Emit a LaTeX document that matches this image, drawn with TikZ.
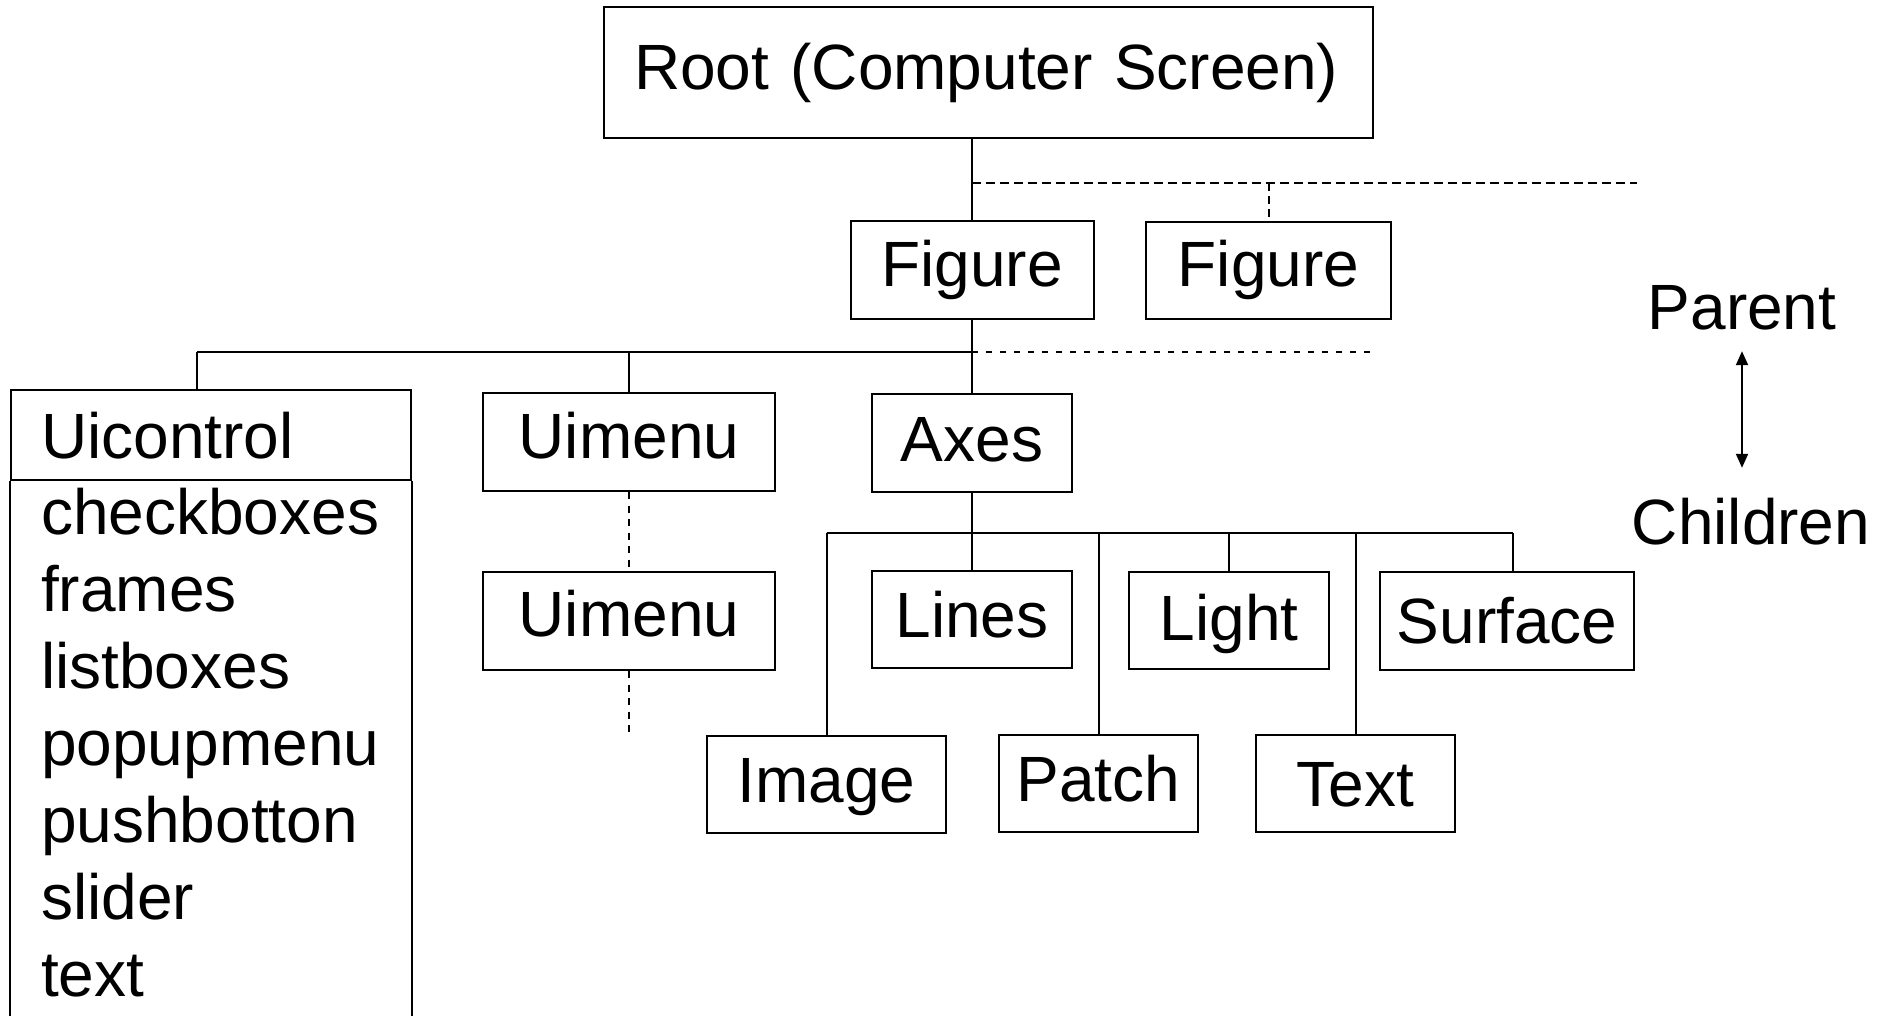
\documentclass[tikz,border=0pt]{standalone}
\usepackage{fontspec}
\setmainfont{Liberation Sans}
\usetikzlibrary{arrows.meta}
\begin{document}
\begin{tikzpicture}[x=1pt,y=-1pt,
  every node/.style={font=\fontsize{64pt}{77pt}\selectfont, inner sep=0pt},
  box/.style={draw, line width=2pt, text height=46pt, text depth=10pt},
  lbl/.style={text height=46pt, text depth=0pt},
  conn/.style={line width=2pt},
  barline/.style={line width=2.8pt},
  sibdash/.style={line width=2pt, dash pattern=on 9pt off 5pt},
  sibdrop/.style={line width=2pt, dash pattern=on 8pt off 5pt},
  kiddash/.style={line width=2pt, dash pattern=on 6pt off 8pt},
  menudash/.style={line width=2pt, dash pattern=on 7pt off 6.5pt},
  tip/.style={{Triangle[length=14pt,width=12pt]}-{Triangle[length=14pt,width=12pt]}}]
\useasboundingbox (0,0) rectangle (1887,1015);

% root and figures
\node[box, minimum width=769pt, minimum height=131pt, text width=709pt, align=left,
      inner xsep=30pt, text depth=12pt] (root) at (988.5,72.5) {Root (Computer Screen)};
\node[box, minimum width=243pt, minimum height=98pt, text depth=14pt] (figure1) at (972,270) {Figure};
\node[box, minimum width=245pt, minimum height=97pt, text depth=14pt] (figure2) at (1268.5,270.5) {Figure};

% children of the figure
\node[box, minimum width=400pt, minimum height=90pt, text width=340pt, align=left,
      inner xsep=30pt, text depth=0pt] (uicontrol) at (211,435) {Uicontrol};
\node[box, minimum width=292pt, minimum height=98pt, text depth=14pt] (uimenu1) at (629,442) {Uimenu};
\node[box, minimum width=292pt, minimum height=98pt, text depth=16pt] (uimenu2) at (629,621) {Uimenu};
\node[box, minimum width=200pt, minimum height=98pt] (axes) at (972,443) {Axes};

% children of the axes
\node[box, minimum width=200pt, minimum height=97pt] (lines) at (972,619.5) {Lines};
\node[box, minimum width=200pt, minimum height=97pt, text depth=6pt] (light) at (1229,620.5) {Light};
\node[box, minimum width=254pt, minimum height=98pt, text depth=2pt] (surface) at (1507,621) {Surface};
\node[box, minimum width=239pt, minimum height=97pt] (image) at (826.5,784.5) {Image};
\node[box, minimum width=199pt, minimum height=97pt] (patch) at (1098.5,783.5) {Patch};
\node[box, minimum width=199pt, minimum height=97pt, text depth=0pt] (text) at (1355.5,783.5) {Text};

% uicontrol styles listed under its header
\foreach \t [count=\i] in {checkboxes,frames,listboxes,popupmenu,pushbotton,slider,text}
  \node[lbl, anchor=base west] (item\i) at (41,{534+77*(\i-1)}) {\t};
\draw[conn] (uicontrol.south west) -- ++(0,540);
\draw[conn] (uicontrol.south east) -- ++(0,540);

% helper points
\coordinate (fig-sib) at (1637,183);
\coordinate (fig-kids) at (1373,352);
\coordinate (ax-kids) at (0,533);
\coordinate (uc-top) at ([xshift=-14pt]uicontrol.north);
\coordinate (surf-top) at ([xshift=6pt]surface.north);

% root -> figure, more figures
\draw[conn] (figure1.north |- root.south) -- (figure1.north);
\draw[sibdash] (figure1.north |- fig-sib) -- (fig-sib);
\draw[sibdrop] (figure2.north |- fig-sib) -- (figure2.north);

% figure -> uicontrol, uimenu, axes
\draw[conn] (figure1.south) -- (figure1.south |- axes.north);
\draw[barline] (uc-top |- fig-kids) -- (figure1.south |- fig-kids);
\draw[kiddash] (figure1.south |- fig-kids) -- (fig-kids);
\draw[conn] (uc-top |- fig-kids) -- (uc-top);
\draw[conn] (uimenu1.north |- fig-kids) -- (uimenu1.north);
\draw[menudash] (uimenu1.south) -- (uimenu2.north);
\draw[menudash] (uimenu2.south) -- ++(0,61);

% axes -> graphics objects
\draw[conn] (axes.south) -- (lines.north);
\draw[conn] (image.north |- ax-kids) -- (surf-top |- ax-kids);
\draw[conn] (image.north |- ax-kids) -- (image.north);
\draw[conn] (patch.north |- ax-kids) -- (patch.north);
\draw[conn] (light.north |- ax-kids) -- (light.north);
\draw[conn] (text.north |- ax-kids) -- (text.north);
\draw[conn] (surf-top |- ax-kids) -- (surf-top);

% legend
\node[lbl, anchor=base] (parent) at (1742,329) {Parent};
\node[lbl, anchor=base] (children) at (1751,544) {Children};
\draw[conn, tip, shorten <=22pt, shorten >=30pt] (parent.south) -- (parent.south |- children.north);
\end{tikzpicture}
\end{document}
